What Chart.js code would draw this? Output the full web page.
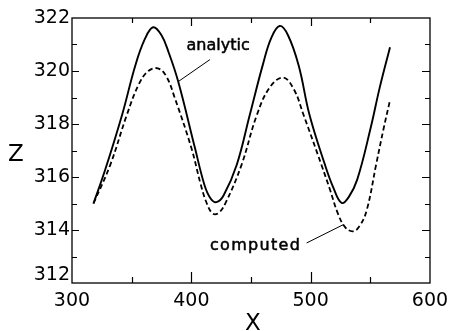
<!DOCTYPE html>
<html><head><meta charset="utf-8">
<script src="https://cdn.jsdelivr.net/npm/chart.js@4/dist/chart.umd.min.js"></script>
<style>html,body{margin:0;padding:0;background:#fff}#wrap{width:450px;height:331px;position:relative}</style>
</head><body><div id="wrap"><canvas id="c" width="450" height="331"></canvas></div>
<script>
// ---- data ----
const analyticX = [318,328,342,353,361,368,375,381,389,403,411,416,421,427,438,449,460,467,474,481,490,499,512,519,526,532,539,550,558,566.5];
const analyticZ = [315.0,316.3,318.35,320.2,321.2,321.65,321.35,320.7,319.6,317.1,315.7,315.2,315.05,315.3,316.45,318.35,320.25,321.25,321.7,321.35,320.2,318.35,316.46,315.6,315.02,315.25,315.9,317.8,319.4,320.9];
const computedX = [318,332,346,356,364,372,379,386,400,408,413,418,423,429,442,455,466,477,486,494,509,516,523,529,535.5,541,547,555,561,566.5];
const computedZ = [315.0,316.45,318.35,319.5,320.0,320.1,319.8,319.0,317.1,315.7,315.0,314.62,314.65,315.05,316.45,318.35,319.4,319.75,319.3,318.35,316.46,315.55,314.6,314.1,313.95,314.15,314.75,316.5,317.8,318.9];
const xTicks = [300,400,500,600];
const xMinorTicks = [350,450,550];
const zTicks = [312,314,316,318,320,322];
const zMinorTicks = [313,315,317,319,321];
const seriesNames = ['analytic','computed'];
const xTitle = 'X';
const zTitle = 'Z';
// annotation anchors (data coords)
const analyticLabelAt = [396, 320.78];
const analyticLeader = [[415.6, 320.43],[389, 319.6]];
const computedLabelAt = [415.6, 313.26];
const computedLeader = [[496.6, 313.51],[527.3, 314.2]];
const zTitleAt = 316.84;

const toPts = (xs, zs) => xs.map((x,i)=>({x:x, y:zs[i]}));

const deco = {
  id:'deco',
  afterDraw(chart){
    const {ctx, chartArea:a, scales:{x, y}} = chart;
    ctx.save();
    ctx.strokeStyle = '#000';
    ctx.lineWidth = 1.3;
    ctx.strokeRect(a.left, a.top, a.right-a.left, a.bottom-a.top);
    ctx.lineWidth = 1.2;
    ctx.beginPath();
    xTicks.forEach(v=>{ if(v===x.min||v===x.max) return; const p=Math.round(x.getPixelForValue(v))+0.5;
      ctx.moveTo(p,a.bottom); ctx.lineTo(p,a.bottom-11); ctx.moveTo(p,a.top); ctx.lineTo(p,a.top+8); });
    xMinorTicks.forEach(v=>{ const p=Math.round(x.getPixelForValue(v))+0.5;
      ctx.moveTo(p,a.bottom); ctx.lineTo(p,a.bottom-6); ctx.moveTo(p,a.top); ctx.lineTo(p,a.top+5); });
    zTicks.forEach(v=>{ if(v===y.min||v===y.max) return; const p=Math.round(y.getPixelForValue(v))+0.5;
      ctx.moveTo(a.left,p); ctx.lineTo(a.left+7,p); ctx.moveTo(a.right,p); ctx.lineTo(a.right-8,p); });
    zMinorTicks.forEach(v=>{ const p=Math.round(y.getPixelForValue(v))+0.5;
      ctx.moveTo(a.left,p); ctx.lineTo(a.left+5,p); ctx.moveTo(a.right,p); ctx.lineTo(a.right-5,p); });
    ctx.stroke();
    // leaders
    ctx.lineWidth = 1;
    ctx.beginPath();
    [analyticLeader, computedLeader].forEach(l=>{
      ctx.moveTo(x.getPixelForValue(l[0][0]), y.getPixelForValue(l[0][1]));
      ctx.lineTo(x.getPixelForValue(l[1][0]), y.getPixelForValue(l[1][1]));
    });
    ctx.stroke();
    ctx.fillStyle = '#000';
    ctx.lineWidth = 0.5;
    ctx.font = '16px "DejaVu Sans"';
    ctx.textAlign = 'left'; ctx.textBaseline = 'alphabetic';
    let px = x.getPixelForValue(analyticLabelAt[0]), py = y.getPixelForValue(analyticLabelAt[1]);
    ctx.fillText(seriesNames[0], px, py); ctx.strokeText(seriesNames[0], px, py);
    ctx.letterSpacing = '1.3px';
    px = x.getPixelForValue(computedLabelAt[0]); py = y.getPixelForValue(computedLabelAt[1]);
    ctx.fillText(seriesNames[1], px, py); ctx.strokeText(seriesNames[1], px, py);
    ctx.letterSpacing = '0px';
    ctx.font = '23px "DejaVu Sans"';
    ctx.textAlign = 'center'; ctx.textBaseline = 'middle';
    ctx.fillText(zTitle, 16, y.getPixelForValue(zTitleAt));
    ctx.textBaseline = 'alphabetic';
    ctx.fillText(xTitle, (a.left+a.right)/2 + 2, 330);
    ctx.restore();
  }
};

new Chart(document.getElementById('c'), {
  type:'line',
  data:{ datasets:[
    { label:seriesNames[0], data:toPts(analyticX, analyticZ), borderColor:'#000', borderWidth:1.9, pointRadius:0, fill:false, tension:0.4 },
    { label:seriesNames[1], data:toPts(computedX, computedZ), borderColor:'#000', borderWidth:1.8, borderDash:[5,3], pointRadius:0, fill:false, tension:0.4 }
  ]},
  options:{
    responsive:false, animation:false, devicePixelRatio:1,
    layout:{ padding:{ top:18, right:20, left:0, bottom:0 } },
    plugins:{ legend:{display:false}, tooltip:{enabled:false} },
    scales:{
      x:{ type:'linear', min:300, max:600,
        afterBuildTicks(s){ s.ticks = xTicks.map(v=>({value:v})); },
        afterFit(s){ s.height = 48; s.paddingLeft = 0; s.paddingRight = 0; },
        grid:{ display:false, drawTicks:false },
        border:{ display:false },
        ticks:{ color:'#000', font:{ family:'DejaVu Sans', size:19 }, padding:7, maxRotation:0, autoSkip:false }
      },
      y:{ type:'linear', min:312, max:322,
        afterBuildTicks(s){ s.ticks = zTicks.map(v=>({value:v})); },
        afterFit(s){ s.width = 72; s.paddingTop = 0; s.paddingBottom = 0; },
        grid:{ display:false, drawTicks:false },
        border:{ display:false },
        ticks:{ color:'#000', font:{ family:'DejaVu Sans', size:19, lineHeight:0.85 }, padding:2,
          callback:(v)=> v===312 ? ['312',''] : String(v) }
      }
    }
  },
  plugins:[deco]
});
</script>
</body></html>
